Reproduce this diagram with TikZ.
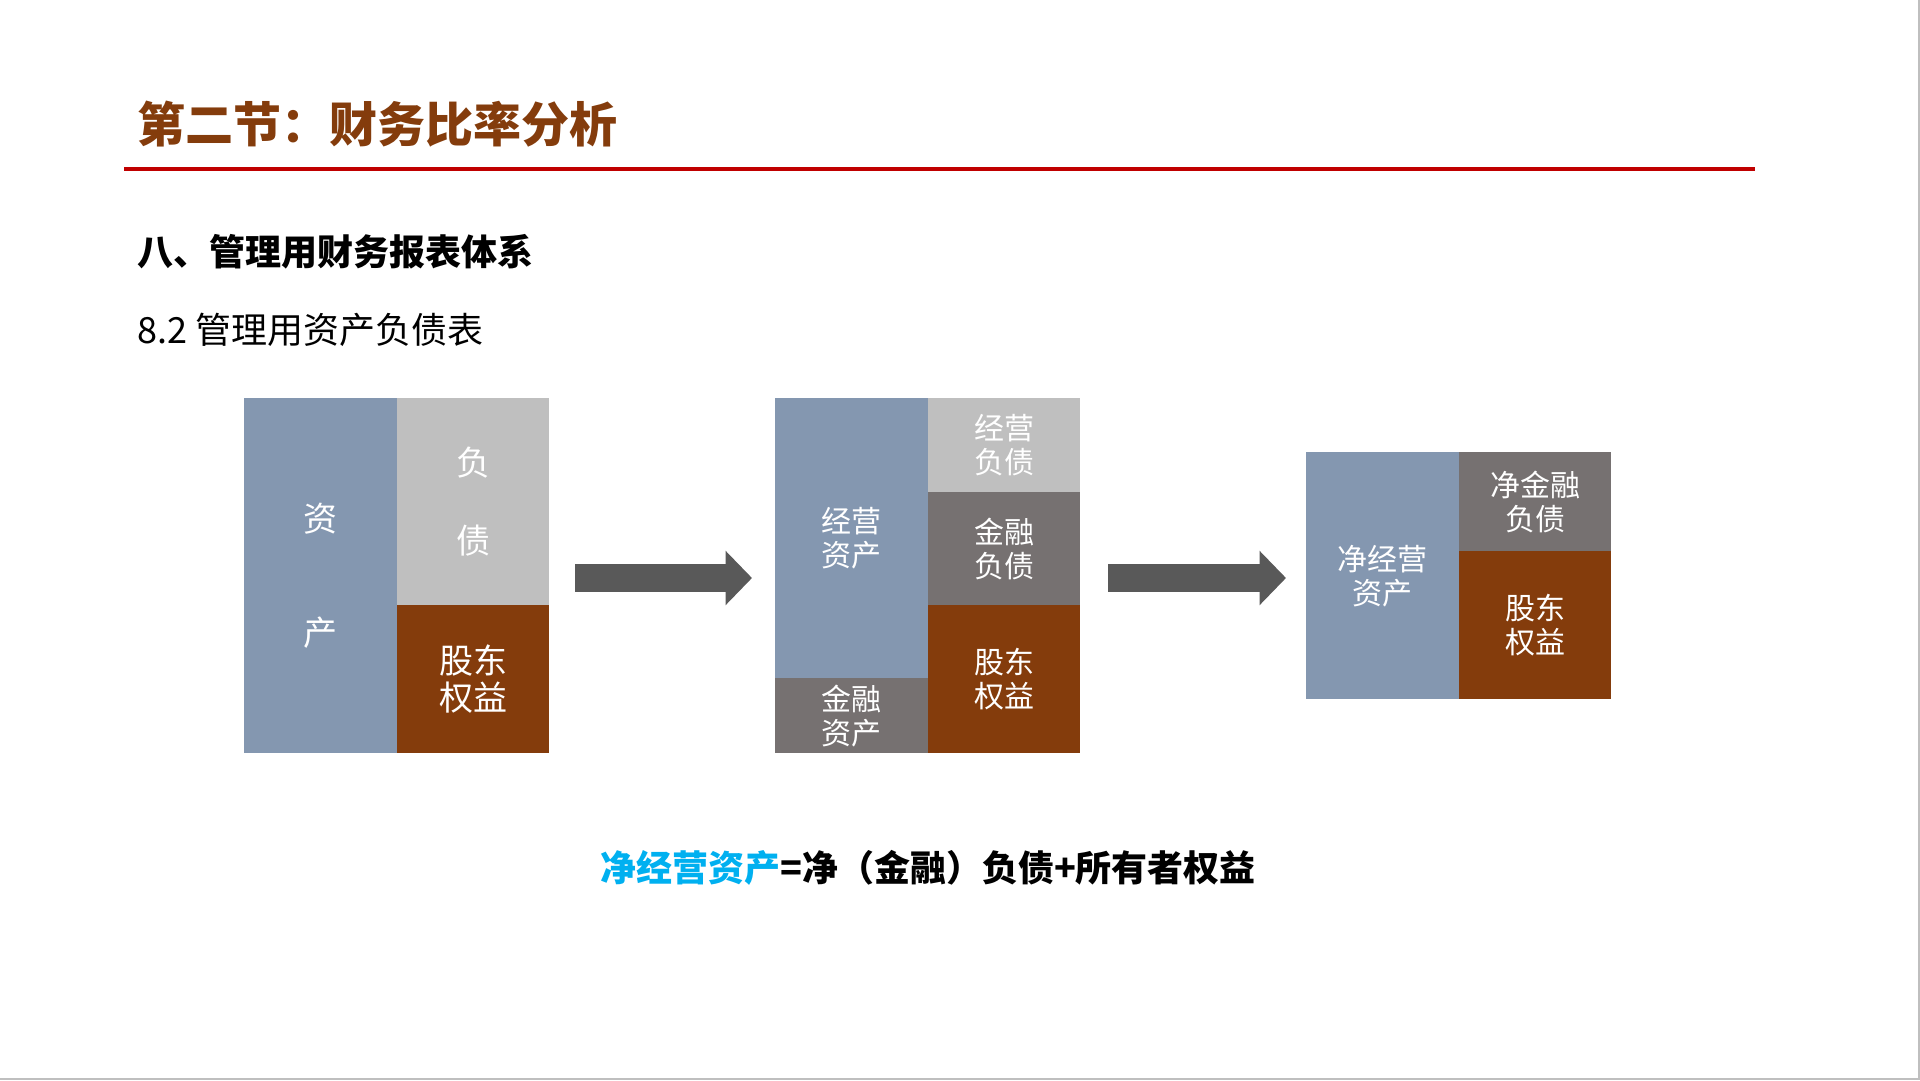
\documentclass[tikz,border=0pt]{standalone}
\usepackage{fontspec}
\setmainfont{Noto Sans CJK SC}
\usetikzlibrary{arrows.meta}

\definecolor{titlebrown}{HTML}{843C0C}
\definecolor{rulered}{HTML}{C00000}
\definecolor{assetblue}{HTML}{8497B0}
\definecolor{liabgray}{HTML}{BFBFBF}
\definecolor{fingray}{HTML}{767171}
\definecolor{arrowgray}{HTML}{595959}
\definecolor{netcyan}{HTML}{00B0F0}

\begin{document}
\begin{tikzpicture}[x=1pt,y=-1pt,
    cell/.style={inner sep=0,anchor=north west,align=center,text=white,
      font=\fontsize{30}{34}\selectfont},
    bigcell/.style={cell,font=\fontsize{34}{37}\selectfont},
    bigarrow/.style={draw=arrowgray,line width=28pt,
      -{Triangle[length=26.5pt,width=53pt]}}]
  \useasboundingbox (0,0) rectangle (1920,1080);
  \fill[white] (0,0) rectangle (1920,1080);
  \draw[black!25,line width=2pt] (1919,0) -- (1919,1079) -- (0,1079);

  \draw
    (134,124.5) node[anchor=west,text=titlebrown,font=\fontsize{48}{48}\selectfont\bfseries] (title){第二节：财务比率分析}
    (134,252) node[anchor=west,font=\fontsize{36}{36}\selectfont\bfseries] (section){八、管理用财务报表体系}
    (134,330) node[anchor=west,font=\fontsize{36}{36}\selectfont] (subsection){8.2 管理用资产负债表};
  \draw[rulered,line width=3.5pt] (124,169) -- (1755,169);

  \draw
    (244,398) node[bigcell,fill=assetblue,minimum width=153,minimum height=355,font=\fontsize{34}{114}\selectfont] (asset1){资\\产}
    (397,398) node[bigcell,fill=liabgray,minimum width=152,minimum height=207,font=\fontsize{34}{78}\selectfont] (liab1){负\\债}
    (397,605) node[bigcell,fill=titlebrown,minimum width=152,minimum height=148] (equity1){股东\\权益};

  \draw
    (775,398) node[cell,fill=assetblue,minimum width=153,minimum height=280] (opasset2){经营\\资产}
    (775,678) node[cell,fill=fingray,minimum width=153,minimum height=75] (finasset2){金融\\资产}
    (928,398) node[cell,fill=liabgray,minimum width=152,minimum height=94] (opliab2){经营\\负债}
    (928,492) node[cell,fill=fingray,minimum width=152,minimum height=113] (finliab2){金融\\负债}
    (928,605) node[cell,fill=titlebrown,minimum width=152,minimum height=148] (equity2){股东\\权益};

  \draw
    (1306,452) node[cell,fill=assetblue,minimum width=153,minimum height=247] (netop3){净经营\\资产}
    (1459,452) node[cell,fill=fingray,minimum width=152,minimum height=99] (netfin3){净金融\\负债}
    (1459,551) node[cell,fill=titlebrown,minimum width=152,minimum height=148] (equity3){股东\\权益};

  \coordinate (arrow1a) at (575,578);
  \coordinate (arrow1b) at (752,578);
  \coordinate (arrow2a) at (1108,578);
  \coordinate (arrow2b) at (1286,578);
  \draw[bigarrow] (arrow1a) -- (arrow1b);
  \draw[bigarrow] (arrow2a) -- (arrow2b);

  \node[font=\fontsize{36}{36}\selectfont\bfseries] (formula) at (928,868)
    {\textcolor{netcyan}{净经营资产}=净（金融）负债+所有者权益};
\end{tikzpicture}
\end{document}
